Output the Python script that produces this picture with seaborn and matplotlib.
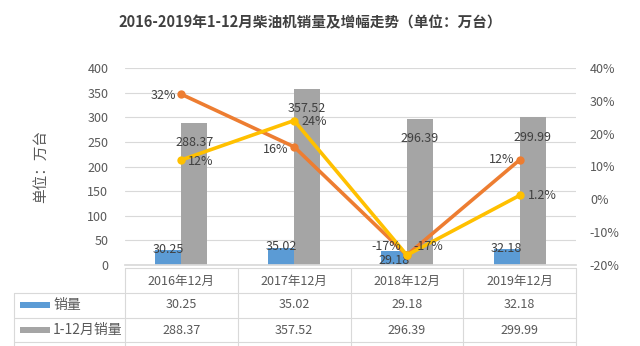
import numpy as np
import pandas as pd
import matplotlib
matplotlib.use("Agg")
import matplotlib.pyplot as plt
import matplotlib.transforms as mtransforms
from matplotlib.patches import Rectangle
from matplotlib.lines import Line2D
import seaborn as sns

# ---- data ----
categories = ["2016年12月", "2017年12月", "2018年12月", "2019年12月"]
sales_dec = [30.25, 35.02, 29.18, 32.18]
sales_ytd = [288.37, 357.52, 296.39, 299.99]
growth_dec = [0.32, 0.16, -0.17, 0.12]
growth_ytd = [0.12, 0.24, -0.17, 0.012]
growth_dec_labels = ["32%", "16%", "-17%", "12%"]
growth_ytd_labels = ["12%", "24%", "-17%", "1.2%"]
bar_series = ["销量", "1-12月销量"]
left_ticks = [0, 50, 100, 150, 200, 250, 300, 350, 400]
right_ticks = [-0.2, -0.1, 0, 0.1, 0.2, 0.3, 0.4]

sns.set_theme(style="white")
plt.rcParams['font.family'] = ['Noto Sans CJK SC', 'DejaVu Sans']
plt.rcParams['axes.unicode_minus'] = False

TXT = "#595959"
LAB = "#404040"
BLUE = "#5B9BD5"
GRAY = "#A5A5A5"
ORANGE = "#ED7D31"
YELLOW = "#FFC000"

fig = plt.figure(figsize=(6.4, 3.46), dpi=100)
W, H = 640, 346
ax = fig.add_axes([125 / W, 1 - 265 / H, (576 - 125) / W, (265 - 68) / H])

df = pd.DataFrame({
    "cat": categories * 2,
    "series": [bar_series[0]] * 4 + [bar_series[1]] * 4,
    "val": sales_dec + sales_ytd,
})
sns.barplot(data=df, x="cat", y="val", hue="series", order=categories,
            hue_order=bar_series, palette=[BLUE, GRAY], width=0.46,
            saturation=1, legend=False, ax=ax, linewidth=0)

ax.set_ylim(0, 400)
ax.set_xlim(-0.5, 3.5)
ax.set_yticks(left_ticks)
ax.set_yticklabels([str(t) for t in left_ticks])
ax.yaxis.grid(True, color="#D9D9D9", linewidth=0.8)
ax.set_axisbelow(True)
for s in ax.spines.values():
    s.set_visible(False)
ax.spines["bottom"].set_visible(True)
ax.spines["bottom"].set_color("#D9D9D9")
ax.set_xlabel("")
ax.set_ylabel("单位：万台", color=TXT, fontsize=10.5, labelpad=28)
ax.set_xticks([])
ax.tick_params(axis="y", colors=TXT, labelsize=9, length=0, pad=12)

# bar labels
conts = ax.containers
blue_txt = ax.bar_label(conts[0], labels=[f"{v:.2f}" for v in sales_dec],
                        label_type="edge", padding=-4, color=LAB, fontsize=9)
# the 2018 label sits lower to avoid the growth labels
blue_txt[2].set_position((0, -12))
ax.bar_label(conts[1], labels=[f"{v:.2f}" for v in sales_ytd],
             label_type="edge", padding=-19, color=LAB, fontsize=9)

# lines on secondary axis
ax2 = ax.twinx()
x = np.arange(len(categories))
ldf = pd.DataFrame({"x": np.concatenate([x, x]),
                    "g": growth_dec + growth_ytd,
                    "s": ["dec"] * 4 + ["ytd"] * 4})
sns.lineplot(data=ldf, x="x", y="g", hue="s", palette=[ORANGE, YELLOW],
             linewidth=2.6, marker="o", markersize=6, markeredgewidth=0,
             legend=False, ax=ax2, sort=False)
ax2.set_ylim(-0.2, 0.4)
ax2.set_xlim(-0.5, 3.5)
ax2.set_yticks(right_ticks)
ax2.set_yticklabels([f"{int(round(t*100))}%" for t in right_ticks])
ax2.tick_params(axis="y", colors=TXT, labelsize=9, length=0, pad=10)
ax2.set_ylabel("")
ax2.set_xlabel("")
for s in ax2.spines.values():
    s.set_visible(False)

offs_o = [(-4, -1), (-4, -2), (-4, 6), (-4, 0)]
for (xi, yi, lab), o in zip(zip(x, growth_dec, growth_dec_labels), offs_o):
    ax2.annotate(lab, (xi, yi), xytext=o, textcoords="offset points",
                 ha="right", va="center", color=LAB, fontsize=9)
offs_y = [(5, -1), (5, -1), (5, 6), (6, 0)]
for (xi, yi, lab), o in zip(zip(x, growth_ytd, growth_ytd_labels), offs_y):
    ax2.annotate(lab, (xi, yi), xytext=o, textcoords="offset points",
                 ha="left", va="center", color=LAB, fontsize=9)

# title
fig.text(310 / W, 1 - 22 / H, "2016-2019年1-12月柴油机销量及增幅走势（单位：万台）",
         ha="center", va="center", fontsize=10.5, fontweight="bold", color=LAB)

# ---- data table ----
trans = mtransforms.blended_transform_factory(ax.transData, fig.transFigure)
fy = lambda py: 1 - py / H
fx = lambda px: px / W
line_c = "#D9D9D9"
rows_y = [268, 293, 318, 342]
fig.add_artist(Line2D([fx(125), fx(576)], [fy(268), fy(268)], color=line_c, lw=0.8))
for yy in rows_y[1:]:
    fig.add_artist(Line2D([fx(14), fx(576)], [fy(yy), fy(yy)], color=line_c, lw=0.8))
for i in range(len(categories) + 1):
    xx = fx(125 + i * (576 - 125) / 4)
    fig.add_artist(Line2D([xx, xx], [fy(268), fy(346)], color=line_c, lw=0.8))
fig.add_artist(Line2D([fx(14), fx(14)], [fy(293), fy(346)], color=line_c, lw=0.8))

for i, cat in enumerate(categories):
    fig.text(0, fy(281), cat, transform=trans, ha="center", va="center",
             fontsize=9, color=TXT).set_x(i)
    fig.text(0, fy(305), f"{sales_dec[i]:.2f}", transform=trans, ha="center",
             va="center", fontsize=9, color=TXT).set_x(i)
    fig.text(0, fy(330), f"{sales_ytd[i]:.2f}", transform=trans, ha="center",
             va="center", fontsize=9, color=TXT).set_x(i)

for yy, col, name in [(305, BLUE, bar_series[0]), (330, GRAY, bar_series[1])]:
    fig.add_artist(Rectangle((fx(20), fy(yy + 3)), fx(30), 6 / H,
                             transform=fig.transFigure, color=col, lw=0))
    fig.text(fx(53), fy(yy), name, ha="left", va="center", fontsize=10, color=TXT)

fig.savefig("out.png", dpi=100)
